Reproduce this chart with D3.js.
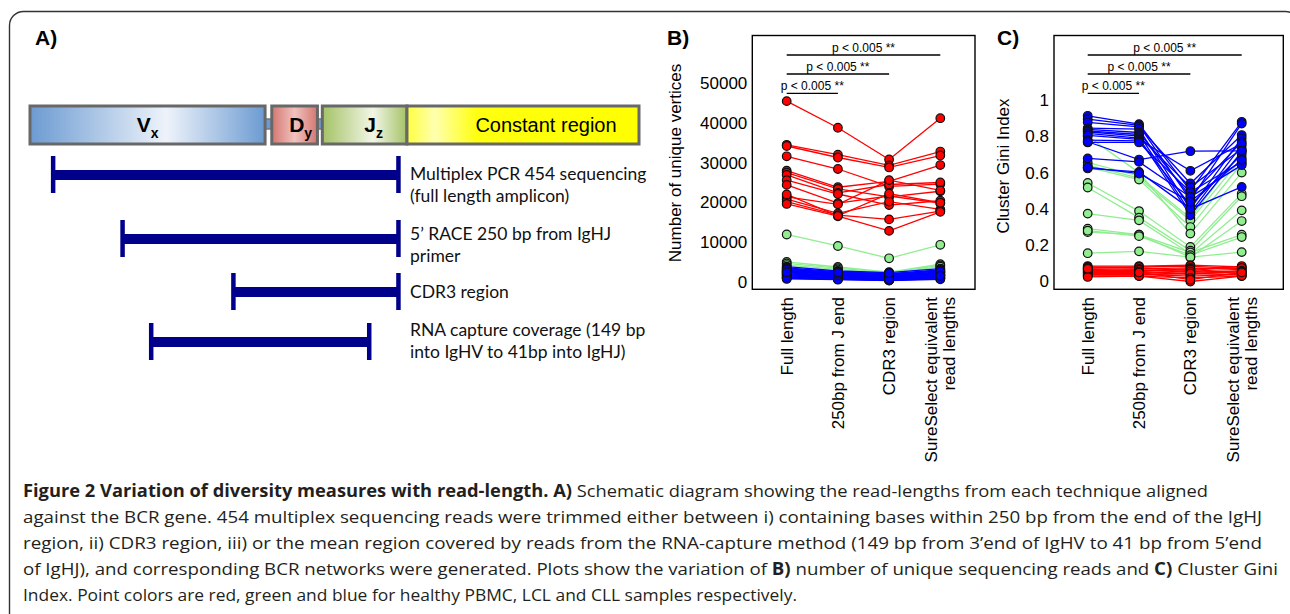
<!DOCTYPE html>
<html>
<head>
<meta charset="utf-8">
<script src="https://cdn.jsdelivr.net/npm/d3@7"></script>
<style>
  body { margin: 0; background: #fff; }
  svg { display: block; }
</style>
</head>
<body>
<svg width="1290" height="614"></svg>
<script>
// ---------- data ----------
// schematic units along the BCR gene (0..100)
const geneSegments = [
  { name: "V", sub: "x", start: 0, end: 38.6 },
  { name: "D", sub: "y", start: 39.7, end: 47.2 },
  { name: "J", sub: "z", start: 48.0, end: 61.9 },
  { name: "Constant region", sub: "", start: 61.9, end: 100 }
];
const readStarts = [3.8, 15.2, 33.4, 19.9];
const readEnds = [60.5, 60.5, 60.5, 55.7];
const readLabels = [
  ["Multiplex PCR 454 sequencing", "(full length amplicon)"],
  ["5\u2019 RACE 250 bp from IgHJ", "primer"],
  ["CDR3 region"],
  ["RNA capture coverage (149 bp", "into IgHV to 41bp into IgHJ)"]
];

const categories = ["Full length", "250bp from J end", "CDR3 region", "SureSelect equivalent read lengths"];
const categoryLines = [["Full length"], ["250bp from J end"], ["CDR3 region"], ["SureSelect equivalent", "read lengths"]];

// B) number of unique vertices
const vertRed = [
  [45500, 38800, 30800, 41200],
  [34500, 32000, 29300, 32800],
  [34200, 31300, 28800, 31800],
  [31600, 28400, 24000, 24600],
  [28000, 23800, 25300, 29400],
  [27500, 23400, 21400, 22800],
  [26900, 22400, 24500, 25000],
  [25600, 22100, 19300, 20400],
  [24400, 19800, 21600, 19800],
  [21400, 19500, 25600, 23000],
  [20800, 17200, 20200, 18200],
  [20200, 16800, 15700, 17800],
  [19600, 16500, 12800, 17600],
  [22000, 16600, 22200, 19900]
];
const vertGreen = [
  [11900, 9000, 5900, 9300],
  [5000, 3700, 2400, 4400],
  [4600, 3400, 2200, 4100],
  [4200, 3100, 2000, 3800],
  [3600, 2600, 1700, 3200],
  [2600, 2000, 1300, 2400],
  [1800, 1300, 900, 1700],
  [1000, 800, 500, 900]
];
const vertBlue = [
  [3800, 2700, 2300, 3300],
  [3500, 2500, 2000, 3000],
  [3300, 2300, 1800, 2800],
  [3100, 2200, 1700, 2700],
  [2900, 2000, 1500, 2500],
  [2700, 1900, 1400, 2300],
  [2500, 1800, 1300, 2200],
  [2300, 1600, 1100, 2000],
  [2200, 1500, 1000, 1900],
  [2000, 1400, 900, 1700],
  [1800, 1300, 800, 1600],
  [1700, 1200, 700, 1400],
  [1500, 1000, 600, 1300],
  [1300, 900, 500, 1100],
  [1200, 800, 450, 1000],
  [1000, 700, 400, 900],
  [900, 600, 350, 800],
  [700, 500, 300, 600],
  [3000, 1700, 600, 2600],
  [2400, 2300, 2100, 1500]
];

// C) cluster Gini index
const giniRed = [
  [0.085, 0.085, 0.090, 0.080],
  [0.080, 0.075, 0.060, 0.085],
  [0.075, 0.080, 0.085, 0.070],
  [0.070, 0.070, 0.075, 0.065],
  [0.065, 0.060, 0.070, 0.075],
  [0.060, 0.065, 0.050, 0.060],
  [0.055, 0.055, 0.065, 0.050],
  [0.050, 0.050, 0.040, 0.055],
  [0.045, 0.045, 0.055, 0.045],
  [0.040, 0.040, 0.030, 0.040],
  [0.035, 0.035, 0.045, 0.035],
  [0.030, 0.030, 0.020, 0.030],
  [0.025, 0.030, 0.000, 0.030],
  [0.070, 0.050, 0.010, 0.050]
];
const giniGreen = [
  [0.656, 0.580, 0.350, 0.720],
  [0.641, 0.570, 0.337, 0.680],
  [0.630, 0.562, 0.300, 0.650],
  [0.800, 0.600, 0.264, 0.600],
  [0.543, 0.388, 0.190, 0.484],
  [0.518, 0.352, 0.170, 0.470],
  [0.374, 0.337, 0.153, 0.392],
  [0.291, 0.258, 0.134, 0.333],
  [0.272, 0.258, 0.160, 0.258],
  [0.280, 0.250, 0.145, 0.245],
  [0.156, 0.166, 0.134, 0.162]
];
const giniBlue = [
  [0.913, 0.867, 0.500, 0.880],
  [0.895, 0.860, 0.450, 0.870],
  [0.877, 0.852, 0.540, 0.807],
  [0.845, 0.840, 0.400, 0.790],
  [0.838, 0.821, 0.470, 0.770],
  [0.830, 0.810, 0.380, 0.750],
  [0.825, 0.801, 0.520, 0.730],
  [0.816, 0.790, 0.365, 0.714],
  [0.805, 0.783, 0.610, 0.760],
  [0.779, 0.775, 0.420, 0.700],
  [0.766, 0.766, 0.493, 0.659],
  [0.770, 0.672, 0.718, 0.720],
  [0.678, 0.659, 0.466, 0.641],
  [0.623, 0.604, 0.400, 0.521],
  [0.630, 0.595, 0.440, 0.670]
];

const vertTicks = [0, 10000, 20000, 30000, 40000, 50000];
const giniTicks = [0, 0.2, 0.4, 0.6, 0.8, 1];
// significance brackets: [from category, to category, label]
const brackets = [
  [0, 3, "p < 0.005 **"],
  [0, 2, "p < 0.005 **"],
  [0, 1, "p < 0.005 **"]
];

const captionLines = [
  [["Figure 2 Variation of diversity measures with read-length. A)", true], [" Schematic diagram showing the read-lengths from each technique aligned", false]],
  [["against the BCR gene. 454 multiplex sequencing reads were trimmed either between i) containing bases within 250 bp from the end of the IgHJ", false]],
  [["region, ii) CDR3 region, iii) or the mean region covered by reads from the RNA-capture method (149 bp from 3\u2019end of IgHV to 41 bp from 5\u2019end", false]],
  [["of IgHJ), and corresponding BCR networks were generated. Plots show the variation of ", false], ["B)", true], [" number of unique sequencing reads and ", false], ["C)", true], [" Cluster Gini", false]],
  [["Index. Point colors are red, green and blue for healthy PBMC, LCL and CLL samples respectively.", false]]
];

// ---------- drawing ----------
let svg = d3.select("svg");
const ARIAL = "'Liberation Sans', Arial, sans-serif";

// outer frame
svg.append("rect")
  .attr("x", 9.5).attr("y", 11.5)
  .attr("width", 1290).attr("height", 700)
  .attr("rx", 14)
  .attr("fill", "none")
  .attr("stroke", "#333")
  .attr("stroke-width", 1.4);

// panel letters
[["A)", 35], ["B)", 667], ["C)", 997]].forEach(p => {
  svg.append("text")
    .attr("x", p[1]).attr("y", 45)
    .attr("font-family", ARIAL)
    .attr("font-weight", "bold")
    .attr("font-size", 21)
    .text(p[0]);
});

// ---- Panel A: schematic ----
let defs = svg.append("defs");
function grad(id, stops) {
  let lg = defs.append("linearGradient").attr("id", id).attr("x1", "0").attr("x2", "1").attr("y1", "0").attr("y2", "0");
  stops.forEach(s => lg.append("stop").attr("offset", s[0]).attr("stop-color", s[1]));
}
grad("gradV", [[0, "#6c9bd2"], [0.58, "#eef3fa"], [1, "#6c9bd2"]]);
grad("gradD", [[0, "#d57670"], [0.5, "#f1c3bf"], [1, "#d57670"]]);
grad("gradJ", [[0, "#a4c266"], [0.6, "#f2f6e6"], [1, "#a4c266"]]);
grad("gradC", [[0, "#ffff40"], [0.12, "#ffffb0"], [0.3, "#ffff10"], [1, "#ffff00"]]);
const segFill = ["url(#gradV)", "url(#gradD)", "url(#gradJ)", "url(#gradC)"];
const segLabelDx = [0, 6, 9, 23];

let xa = d3.scaleLinear().domain([0, 100]).range([30, 639]);
let gA = svg.append("g");

// little connectors between segments
[[0, 1], [1, 2]].forEach(pr => {
  gA.append("rect")
    .attr("x", xa(geneSegments[pr[0]].end) - 1)
    .attr("y", 119)
    .attr("width", xa(geneSegments[pr[1]].start) - xa(geneSegments[pr[0]].end) + 2)
    .attr("height", 10)
    .attr("fill", "#6c9bd2")
    .attr("stroke", "#777")
    .attr("stroke-width", 1.5);
});

gA.selectAll("rect.seg")
  .data(geneSegments)
  .enter()
  .append("rect")
  .attr("class", "seg")
  .attr("x", d => xa(d.start))
  .attr("y", 106)
  .attr("width", d => xa(d.end) - xa(d.start))
  .attr("height", 38)
  .attr("fill", (d, i) => segFill[i])
  .attr("stroke", "#686868")
  .attr("stroke-width", 3);

geneSegments.forEach((d, i) => {
  let t = gA.append("text")
    .attr("x", (xa(d.start) + xa(d.end)) / 2 + segLabelDx[i])
    .attr("y", 132)
    .attr("text-anchor", "middle")
    .attr("font-family", ARIAL)
    .attr("fill", "#000");
  if (d.sub) {
    t.append("tspan").attr("font-weight", "bold").attr("font-size", 21).text(d.name);
    t.append("tspan").attr("font-weight", "bold").attr("font-size", 14).attr("dy", 6).text(d.sub);
  } else {
    t.attr("font-size", 20).text(d.name);
  }
});

// read-length ranges
const rowY = [175, 239, 292, 342];
const labelY = [180, 240, 298, 336];
readStarts.forEach((s, i) => {
  let e = readEnds[i];
  let y = rowY[i];
  gA.append("line")
    .attr("x1", xa(s)).attr("x2", xa(e))
    .attr("y1", y).attr("y2", y)
    .attr("stroke", "#00008b").attr("stroke-width", 10);
  [s, e].forEach(v => {
    gA.append("line")
      .attr("x1", xa(v)).attr("x2", xa(v))
      .attr("y1", y - 19).attr("y2", y + 18)
      .attr("stroke", "#00008b").attr("stroke-width", 4.5);
  });
  readLabels[i].forEach((txt, j) => {
    gA.append("text")
      .attr("x", 410)
      .attr("y", labelY[i] + j * 21.5)
      .attr("font-family", "Lato, 'Open Sans', sans-serif")
      .attr("font-size", 17.5)
      .attr("fill", "#111")
      .text(txt);
  });
});

// ---- Panels B and C ----
function drawPanel(opt) {
  let g = svg.append("g");
  let x = d3.scalePoint().domain(categories).range([opt.x0, opt.x1]);
  let y = d3.scaleLinear().domain(opt.domain).range([opt.yBottom, opt.yTop]);

  // y axis labels (no tick marks)
  let ax = g.append("g")
    .attr("transform", "translate(" + opt.left + ",0)")
    .call(d3.axisLeft(y).tickValues(opt.ticks).tickSize(0).tickPadding(5).tickFormat(opt.fmt));
  ax.select(".domain").remove();
  ax.attr("font-family", ARIAL).attr("font-size", 17);
  ax.selectAll("text").attr("fill", "#000");

  // y title
  g.append("text")
    .attr("transform", "translate(" + opt.titleX + "," + opt.titleY + ") rotate(-90)")
    .attr("text-anchor", "middle")
    .attr("dy", "0.35em")
    .attr("font-family", ARIAL)
    .attr("font-size", 17)
    .text(opt.title);

  // series
  let line = d3.line().x((d, i) => x(categories[i])).y(d => y(d));
  opt.groups.forEach(grp => {
    g.append("g")
      .selectAll("path")
      .data(grp.values)
      .enter()
      .append("path")
      .attr("d", line)
      .attr("fill", "none")
      .attr("stroke", grp.color)
      .attr("stroke-width", 1.3);
    let pts = grp.values.flatMap(s => s.map((v, i) => ({ v: v, i: i })));
    g.append("g")
      .selectAll("circle")
      .data(pts)
      .enter()
      .append("circle")
      .attr("cx", d => x(categories[d.i]))
      .attr("cy", d => y(d.v))
      .attr("r", 4.3)
      .attr("fill", grp.color)
      .attr("stroke", "#111")
      .attr("stroke-width", 1.2);
  });

  // significance brackets
  const levels = [55, 74, 93.3];
  brackets.forEach((b, k) => {
    let x1 = x(categories[b[0]]), x2 = x(categories[b[1]]);
    g.append("line")
      .attr("x1", x1).attr("x2", x2)
      .attr("y1", levels[k]).attr("y2", levels[k])
      .attr("stroke", "#000").attr("stroke-width", 1.3);
    g.append("text")
      .attr("x", (x1 + x2) / 2)
      .attr("y", levels[k] - 3)
      .attr("text-anchor", "middle")
      .attr("font-family", ARIAL)
      .attr("font-size", 12)
      .text(b[2]);
  });

  // frame
  g.append("rect")
    .attr("x", opt.left).attr("y", 35.5)
    .attr("width", opt.right - opt.left)
    .attr("height", 289.3 - 35.5)
    .attr("fill", "none")
    .attr("stroke", "#000")
    .attr("stroke-width", 1.4);

  // rotated category labels
  categories.forEach((c, i) => {
    let lines = categoryLines[i];
    let t = g.append("text")
      .attr("transform", "translate(" + x(c) + ",297) rotate(-90)")
      .attr("text-anchor", "end")
      .attr("font-family", ARIAL)
      .attr("font-size", 17);
    lines.forEach((ln, j) => {
      t.append("tspan")
        .attr("x", 0)
        .attr("y", (j - (lines.length - 1) / 2) * 18 + 6)
        .text(ln);
    });
  });
}

drawPanel({
  left: 752.3, right: 975,
  x0: 786.7, x1: 940.3,
  yBottom: 281.7, yTop: 83.3,
  domain: [0, 50000],
  ticks: vertTicks,
  fmt: d3.format("d"),
  title: "Number of unique vertices",
  titleX: 675, titleY: 163,
  groups: [
    { color: "#90ee90", values: vertGreen },
    { color: "#ff0000", values: vertRed },
    { color: "#0000ff", values: vertBlue }
  ]
});

drawPanel({
  left: 1054, right: 1283.3,
  x0: 1087.7, x1: 1241.7,
  yBottom: 281.5, yTop: 100,
  domain: [0, 1],
  ticks: giniTicks,
  fmt: d => String(d),
  title: "Cluster Gini Index",
  titleX: 1003, titleY: 166,
  groups: [
    { color: "#90ee90", values: giniGreen },
    { color: "#ff0000", values: giniRed },
    { color: "#0000ff", values: giniBlue }
  ]
});

// ---- caption ----
const capWidths = [1185, 1239, 1239, 1255, 774];
captionLines.forEach((parts, i) => {
  let t = svg.append("text")
    .attr("x", 23)
    .attr("y", 497 + i * 26)
    .attr("font-family", "'Open Sans', 'Noto Sans', sans-serif")
    .attr("font-size", 17)
    .attr("fill", "#231f20")
    .attr("textLength", capWidths[i])
    .attr("lengthAdjust", "spacingAndGlyphs");
  parts.forEach(p => {
    t.append("tspan")
      .attr("font-weight", p[1] ? "bold" : "normal")
      .text(p[0]);
  });
});
</script>
</body>
</html>
